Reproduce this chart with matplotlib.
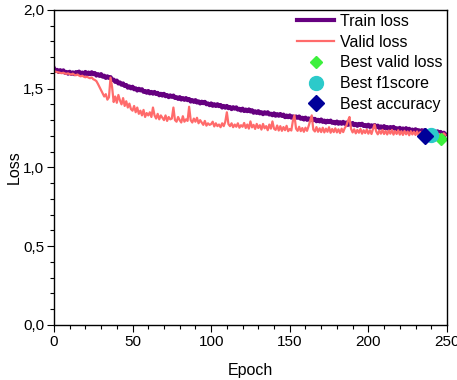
import matplotlib
matplotlib.use("Agg")
import matplotlib.pyplot as plt
from matplotlib.ticker import MultipleLocator

plt.rcParams["font.family"] = ["Liberation Sans", "DejaVu Sans"]

train_loss = [
    1.630, 1.612, 1.619, 1.606, 1.617, 1.608, 1.616, 1.601, 1.606, 1.595,
    1.607, 1.594, 1.603, 1.592, 1.605, 1.598, 1.608, 1.595, 1.602, 1.593,
    1.606, 1.592, 1.602, 1.592, 1.604, 1.592, 1.599, 1.583, 1.592, 1.581,
    1.592, 1.576, 1.582, 1.568, 1.578, 1.568, 1.573, 1.555, 1.557, 1.543,
    1.551, 1.533, 1.539, 1.525, 1.533, 1.517, 1.523, 1.506, 1.514, 1.502,
    1.512, 1.496, 1.502, 1.488, 1.499, 1.489, 1.496, 1.480, 1.485, 1.474,
    1.485, 1.470, 1.479, 1.468, 1.479, 1.466, 1.473, 1.458, 1.467, 1.456,
    1.467, 1.452, 1.459, 1.446, 1.457, 1.448, 1.456, 1.441, 1.446, 1.435,
    1.446, 1.431, 1.440, 1.429, 1.440, 1.427, 1.434, 1.418, 1.427, 1.416,
    1.427, 1.412, 1.419, 1.406, 1.417, 1.408, 1.416, 1.401, 1.406, 1.395,
    1.406, 1.391, 1.401, 1.390, 1.401, 1.389, 1.396, 1.380, 1.390, 1.379,
    1.390, 1.376, 1.383, 1.370, 1.382, 1.373, 1.381, 1.367, 1.372, 1.361,
    1.373, 1.358, 1.367, 1.357, 1.368, 1.355, 1.363, 1.347, 1.356, 1.346,
    1.357, 1.343, 1.350, 1.338, 1.350, 1.341, 1.350, 1.336, 1.341, 1.331,
    1.343, 1.328, 1.338, 1.328, 1.339, 1.327, 1.335, 1.319, 1.329, 1.319,
    1.330, 1.316, 1.324, 1.311, 1.323, 1.315, 1.323, 1.309, 1.315, 1.304,
    1.316, 1.302, 1.311, 1.301, 1.313, 1.300, 1.308, 1.293, 1.302, 1.292,
    1.304, 1.289, 1.297, 1.285, 1.296, 1.288, 1.297, 1.283, 1.289, 1.279,
    1.291, 1.277, 1.287, 1.277, 1.289, 1.277, 1.285, 1.270, 1.280, 1.270,
    1.282, 1.268, 1.276, 1.264, 1.276, 1.268, 1.277, 1.263, 1.269, 1.259,
    1.271, 1.257, 1.267, 1.257, 1.269, 1.257, 1.265, 1.250, 1.260, 1.250,
    1.262, 1.248, 1.256, 1.244, 1.256, 1.248, 1.257, 1.243, 1.249, 1.239,
    1.251, 1.237, 1.247, 1.237, 1.249, 1.237, 1.245, 1.230, 1.240, 1.230,
    1.242, 1.228, 1.236, 1.224, 1.236, 1.228, 1.237, 1.223, 1.229, 1.219,
    1.231, 1.217, 1.227, 1.217, 1.229, 1.217, 1.225, 1.210, 1.220, 1.210,
]

valid_loss = [
    1.612, 1.608, 1.605, 1.603, 1.600, 1.598, 1.601, 1.596, 1.594, 1.597,
    1.592, 1.590, 1.595, 1.588, 1.585, 1.590, 1.583, 1.578, 1.582, 1.576,
    1.572, 1.576, 1.570, 1.566, 1.571, 1.560, 1.555, 1.548, 1.530, 1.510,
    1.490, 1.470, 1.450, 1.465, 1.430, 1.445, 1.570, 1.510, 1.415, 1.450,
    1.410, 1.460, 1.425, 1.400, 1.440, 1.390, 1.420, 1.380, 1.405, 1.370,
    1.360, 1.390, 1.350, 1.380, 1.340, 1.360, 1.330, 1.365, 1.320, 1.345,
    1.330, 1.350, 1.320, 1.380, 1.330, 1.310, 1.340, 1.305, 1.330, 1.315,
    1.300, 1.330, 1.295, 1.320, 1.305, 1.310, 1.380, 1.300, 1.290, 1.320,
    1.300, 1.285, 1.325, 1.290, 1.305, 1.295, 1.385, 1.300, 1.285, 1.310,
    1.290, 1.315, 1.280, 1.300, 1.285, 1.270, 1.295, 1.265, 1.280, 1.270,
    1.275, 1.290, 1.260, 1.280, 1.262, 1.272, 1.255, 1.280, 1.262, 1.290,
    1.350, 1.275, 1.262, 1.280, 1.255, 1.272, 1.258, 1.280, 1.252, 1.268,
    1.258, 1.282, 1.250, 1.272, 1.246, 1.292, 1.254, 1.270, 1.244, 1.276,
    1.250, 1.268, 1.240, 1.276, 1.248, 1.262, 1.236, 1.272, 1.246, 1.292,
    1.246, 1.238, 1.266, 1.234, 1.262, 1.232, 1.256, 1.236, 1.264, 1.230,
    1.244, 1.234, 1.295, 1.330, 1.246, 1.232, 1.258, 1.230, 1.250, 1.226,
    1.252, 1.232, 1.262, 1.295, 1.330, 1.240, 1.228, 1.256, 1.226, 1.248,
    1.224, 1.252, 1.222, 1.246, 1.226, 1.255, 1.220, 1.244, 1.224, 1.248,
    1.222, 1.242, 1.218, 1.246, 1.224, 1.250, 1.265, 1.295, 1.320, 1.245,
    1.222, 1.242, 1.216, 1.238, 1.220, 1.244, 1.214, 1.236, 1.218, 1.240,
    1.214, 1.236, 1.212, 1.245, 1.272, 1.228, 1.210, 1.234, 1.214, 1.238,
    1.212, 1.232, 1.209, 1.234, 1.214, 1.238, 1.208, 1.231, 1.212, 1.236,
    1.208, 1.230, 1.206, 1.232, 1.210, 1.228, 1.204, 1.230, 1.209, 1.226,
    1.206, 1.228, 1.202, 1.224, 1.206, 1.226, 1.200, 1.224, 1.204, 1.212,
    1.208, 1.221, 1.200, 1.218, 1.198, 1.212, 1.182, 1.204, 1.216, 1.206,
]

epochs = list(range(len(train_loss)))

# best-epoch markers, placed on the valid loss curve
best_valid_ep = 246
best_f1_ep = 240
best_acc_ep = 236

y_ticks = [0.0, 0.5, 1.0, 1.5, 2.0]
y_tick_labels = ["0,0", "0,5", "1,0", "1,5", "2,0"]
x_ticks = [0, 50, 100, 150, 200, 250]

fig = plt.figure(figsize=(4.57, 3.80), dpi=100)
ax = fig.add_axes([0.118, 0.145, 0.860, 0.829])

ax.plot(epochs, train_loss, color="#660080", lw=3.0, label="Train loss")
ax.plot(epochs, valid_loss, color="#FF6B6B", lw=1.6, label="Valid loss")
ax.plot([best_valid_ep], [valid_loss[best_valid_ep]], ls="none", marker="D", ms=6.5,
        color="#3CF03C", label="Best valid loss")
ax.plot([best_f1_ep], [valid_loss[best_f1_ep]], ls="none", marker="o", ms=10,
        color="#2CCACA", label="Best f1score")
ax.plot([best_acc_ep], [valid_loss[best_acc_ep]], ls="none", marker="D", ms=8.5,
        color="#000099", label="Best accuracy")

ax.set_xlim(0, 250)
ax.set_ylim(0, 2.0)
ax.set_xticks(x_ticks)
ax.set_yticks(y_ticks)
ax.set_yticklabels(y_tick_labels)
ax.xaxis.set_minor_locator(MultipleLocator(10))
ax.yaxis.set_minor_locator(MultipleLocator(0.1))
ax.tick_params(which="both", direction="out", top=False, right=False, labelsize=11, pad=2)
ax.tick_params(which="major", length=5, width=0.8)
ax.tick_params(which="minor", length=3, width=0.8)
for s in ax.spines.values():
    s.set_linewidth(1.0)

ax.set_xlabel("Epoch", fontsize=11.5, labelpad=10)
ax.set_ylabel("Loss", fontsize=11.5, labelpad=1)

ax.legend(loc="upper right", frameon=False, fontsize=11.5, handlelength=2.3,
          labelspacing=0.36, borderaxespad=0.0, borderpad=0.25, handletextpad=0.4)

fig.savefig("out.png", dpi=100)
